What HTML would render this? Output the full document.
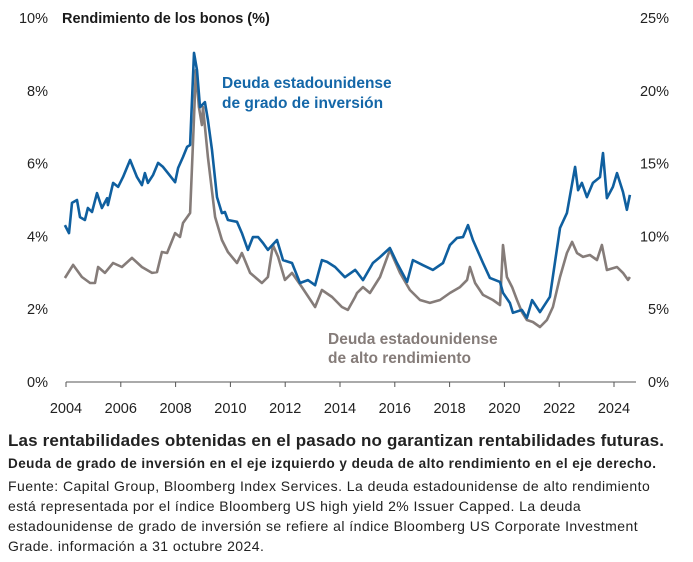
<!DOCTYPE html>
<html><head><meta charset="utf-8"><style>
body{margin:0;background:#fff;width:693px;height:562px;overflow:hidden;font-family:"Liberation Sans",sans-serif;}
svg{position:absolute;left:0;top:0}
.t{font-family:"Liberation Sans",sans-serif}
.foot{position:absolute;left:8px;color:#222;white-space:nowrap}
</style></head><body>
<svg width="693" height="430">
<g id="axes"></g>
<text x="62" y="23" font-size="14.5" font-weight="bold" fill="#1a1a1a" class="t">Rendimiento de los bonos (%)</text>
<text x="222" y="88" font-size="15.5" font-weight="bold" fill="#1467a8" class="t">Deuda estadounidense</text>
<text x="222" y="108" font-size="15.5" font-weight="bold" fill="#1467a8" class="t">de grado de inversión</text>
<text x="328" y="344" font-size="15.5" font-weight="bold" fill="#857c79" class="t">Deuda estadounidense</text>
<text x="328" y="363" font-size="15.5" font-weight="bold" fill="#857c79" class="t">de alto rendimiento</text>
<g id="series"></g>
</svg>
<div class="foot" style="top:431px;font-size:17px;letter-spacing:0.15px;font-weight:bold">Las rentabilidades obtenidas en el pasado no garantizan rentabilidades futuras.</div>
<div class="foot" style="top:456px;font-size:13.5px;letter-spacing:0.45px;font-weight:bold">Deuda de grado de inversión en el eje izquierdo y deuda de alto rendimiento en el eje derecho.</div>
<div class="foot" style="top:476px;font-size:14px;letter-spacing:0.45px;line-height:20px">Fuente: Capital Group, Bloomberg Index Services. La deuda estadounidense de alto rendimiento<br>está representada por el índice Bloomberg US high yield 2% Issuer Capped. La deuda<br>estadounidense de grado de inversión se refiere al índice Bloomberg US Corporate Investment<br>Grade. información a 31 octubre 2024.</div>
<script>
const xTicks=[2004,2006,2008,2010,2012,2014,2016,2018,2020,2022,2024];
const leftTicks=[0,2,4,6,8,10];
const rightTicks=[0,5,10,15,20,25];
const igYears=[2003.96,2004.11,2004.22,2004.40,2004.51,2004.69,2004.80,2004.95,2005.13,2005.31,2005.50,2005.53,2005.72,2005.90,2006.08,2006.34,2006.59,2006.77,2006.88,2006.99,2007.18,2007.36,2007.54,2007.72,2007.98,2008.09,2008.27,2008.42,2008.53,2008.67,2008.78,2008.89,2009.07,2009.18,2009.33,2009.51,2009.69,2009.80,2009.91,2010.24,2010.42,2010.64,2010.82,2011.01,2011.19,2011.37,2011.70,2011.92,2012.25,2012.54,2012.83,2013.09,2013.34,2013.53,2013.82,2014.18,2014.55,2014.62,2014.84,2015.20,2015.46,2015.82,2016.08,2016.45,2016.66,2017.03,2017.39,2017.76,2018.01,2018.27,2018.49,2018.67,2018.85,2019.22,2019.47,2019.84,2019.95,2020.20,2020.31,2020.64,2020.82,2021.01,2021.30,2021.66,2022.03,2022.28,2022.58,2022.69,2022.83,2023.01,2023.23,2023.49,2023.60,2023.74,2023.96,2024.11,2024.33,2024.47,2024.58];
const igValues=[4.31,4.09,4.92,5.00,4.53,4.45,4.78,4.67,5.19,4.78,5.05,4.86,5.47,5.36,5.63,6.10,5.63,5.41,5.74,5.47,5.69,6.02,5.91,5.74,5.49,5.88,6.18,6.46,6.51,9.04,8.57,7.55,7.69,7.20,6.37,5.08,4.64,4.67,4.45,4.40,4.09,3.63,3.98,3.98,3.82,3.63,3.90,3.35,3.27,2.72,2.80,2.66,3.35,3.30,3.16,2.88,3.08,3.02,2.80,3.27,3.43,3.68,3.27,2.75,3.35,3.21,3.08,3.27,3.76,3.96,3.98,4.31,3.90,3.27,2.86,2.75,2.45,2.17,1.90,1.98,1.76,2.25,1.92,2.34,4.23,4.64,5.91,5.27,5.47,5.08,5.47,5.63,6.29,5.05,5.36,5.74,5.22,4.73,5.14];
const hyYears=[2003.96,2004.26,2004.58,2004.88,2005.06,2005.17,2005.42,2005.72,2006.04,2006.41,2006.77,2007.14,2007.32,2007.50,2007.69,2007.98,2008.16,2008.27,2008.53,2008.64,2008.74,2008.85,2008.96,2009.00,2009.18,2009.44,2009.69,2009.91,2010.24,2010.42,2010.72,2011.15,2011.37,2011.55,2011.74,2011.99,2012.25,2012.61,2013.09,2013.34,2013.71,2014.07,2014.29,2014.55,2014.62,2014.84,2015.09,2015.46,2015.82,2016.19,2016.55,2016.92,2017.28,2017.65,2018.01,2018.38,2018.64,2018.74,2018.93,2019.22,2019.58,2019.84,2019.95,2020.09,2020.28,2020.46,2020.64,2020.82,2021.04,2021.30,2021.55,2021.77,2022.03,2022.28,2022.47,2022.65,2022.87,2023.12,2023.38,2023.56,2023.74,2024.11,2024.33,2024.51,2024.58];
const hyValues=[7.14,8.04,7.21,6.80,6.80,7.90,7.49,8.17,7.90,8.52,7.90,7.49,7.55,8.93,8.86,10.23,9.96,10.92,11.61,16.62,21.43,18.89,17.65,18.89,15.45,11.33,9.75,8.93,8.17,8.86,7.49,6.80,7.21,9.41,8.59,7.01,7.49,6.52,5.15,6.32,5.84,5.15,4.95,5.84,6.11,6.52,6.11,7.21,9.07,7.49,6.32,5.63,5.43,5.63,6.11,6.52,7.01,7.90,6.80,5.98,5.63,5.29,9.41,7.21,6.52,5.63,4.81,4.26,4.12,3.78,4.26,5.15,7.21,8.86,9.62,8.86,8.59,8.72,8.38,9.41,7.69,7.90,7.49,7.01,7.21];

const NS='http://www.w3.org/2000/svg';
function xs(yr){return 66+(yr-2004)*27.4;}
function yl(v){return 382-v*36.4;}
function yr(v){return 382-v*14.56;}
function mk(tag,attrs,parent){const e=document.createElementNS(NS,tag);for(const k in attrs)e.setAttribute(k,attrs[k]);parent.appendChild(e);return e;}
const ax=document.getElementById('axes');
const base=mk('line',{x1:66,x2:636,y1:382,y2:382,stroke:'#555','stroke-width':1},ax);


xTicks.forEach(t=>{
 const tk=mk('line',{x1:xs(t),x2:xs(t),y1:382,y2:387,stroke:'#555','stroke-width':1},ax);
 
 
 const tx=mk('text',{x:xs(t),y:413,'font-size':14.5,'text-anchor':'middle',fill:'#222',class:'t'},ax);
 tx.textContent=t;
 
 
});
leftTicks.forEach(t=>{
 const tx=mk('text',{x:48,y:yl(t)+5,'font-size':14.5,'text-anchor':'end',fill:'#222',class:'t'},ax);
 tx.textContent=t+'%';
 
 
});
rightTicks.forEach(t=>{
 const tx=mk('text',{x:669,y:yr(t)+5,'font-size':14.5,'text-anchor':'end',fill:'#222',class:'t'},ax);
 tx.textContent=t+'%';
 
 
});
const sg=document.getElementById('series');
const hp=mk('polyline',{points:hyYears.map((y,i)=>xs(y).toFixed(1)+','+yr(hyValues[i]).toFixed(1)).join(' '),fill:'none',stroke:'#857c79','stroke-width':2.6,'stroke-linejoin':'round'},sg);


const ip=mk('polyline',{points:igYears.map((y,i)=>xs(y).toFixed(1)+','+yl(igValues[i]).toFixed(1)).join(' '),fill:'none',stroke:'#0f5f9f','stroke-width':2.6,'stroke-linejoin':'round'},sg);


</script>
</body></html>
